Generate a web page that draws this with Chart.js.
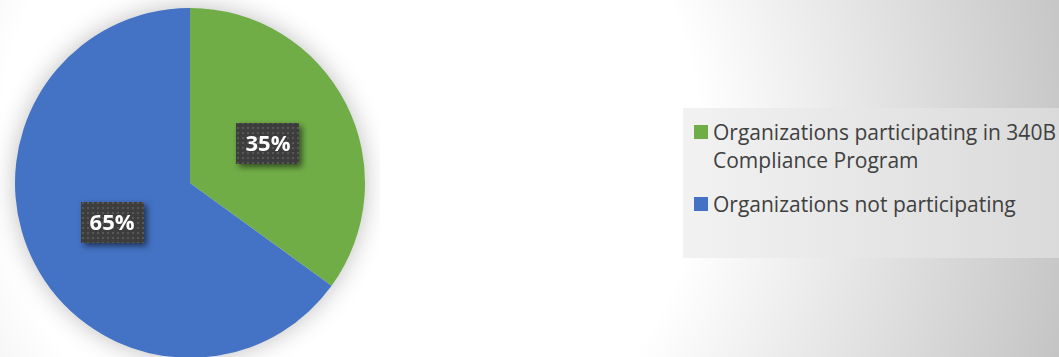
<!DOCTYPE html>
<html>
<head>
<meta charset="utf-8">
<script src="https://cdn.jsdelivr.net/npm/chart.js@4"></script>
<style>
  html, body { margin: 0; padding: 0; width: 1059px; height: 357px; overflow: hidden; }
  body {
    position: relative;
    background: radial-gradient(circle at 350px 150px, #ffffff 350px, #c4c4c4 740px);
    font-family: "Open Sans", sans-serif;
  }
  #wrap { position: absolute; left: 0; top: 0; width: 380px; height: 366px; }
  #legend {
    position: absolute; left: 683px; top: 108px; width: 376px; height: 150px;
    background: linear-gradient(to right, #f2f2f2, #e6e6e6 50%, #dadada);
    box-sizing: border-box; padding: 10px 0 0 11px;
  }
  .item { display: flex; align-items: flex-start; margin-bottom: 16px; }
  .box { width: 14px; height: 14px; margin: 7px 5px 0 0; flex: none; }
  .txt { color: #404040; font-size: 21px; line-height: 28px; width: 346px; }
</style>
</head>
<body>
<div id="wrap"><canvas id="pieChart"></canvas></div>
<div id="legend"></div>
<script>
const labels = ['Organizations participating in 340B Compliance Program', 'Organizations not participating'];
const values = [35, 65];
const colors = ['#70AD47', '#4472C4'];

// legend built from the same arrays
const legend = document.getElementById('legend');
labels.forEach((l, i) => {
  const item = document.createElement('div');
  item.className = 'item';
  item.innerHTML = '<div class="box" style="background:' + colors[i] + '"></div><div class="txt">' + l + '</div>';
  legend.appendChild(item);
});

// dotted dark pattern for the label boxes
const pc = document.createElement('canvas');
pc.width = 5; pc.height = 5;
const pctx = pc.getContext('2d');
pctx.fillStyle = '#3d3d3d';
pctx.fillRect(0, 0, 5, 5);
pctx.fillStyle = '#575757';
pctx.fillRect(2, 2, 2, 2);

const pieShadow = {
  id: 'pieShadow',
  beforeDatasetsDraw(chart) {
    const arc = chart.getDatasetMeta(0).data[0];
    if (!arc) return;
    const ctx = chart.ctx;
    ctx.save();
    ctx.shadowColor = 'rgba(0,0,0,0.28)';
    ctx.shadowBlur = 26;
    ctx.fillStyle = '#ffffff';
    ctx.beginPath();
    ctx.arc(arc.x, arc.y, arc.outerRadius - 1, 0, Math.PI * 2);
    ctx.fill();
    ctx.restore();
  }
};

const boxLabels = {
  id: 'boxLabels',
  afterDatasetsDraw(chart) {
    const ctx = chart.ctx;
    const total = values.reduce((a, b) => a + b, 0);
    chart.getDatasetMeta(0).data.forEach((arc, i) => {
      const p = arc.tooltipPosition();
      const w = 63, h = 41;
      const x = Math.round(p.x - w / 2), y = Math.round(p.y - h / 2);
      ctx.save();
      ctx.shadowColor = 'rgba(0,0,0,0.55)';
      ctx.shadowBlur = 6;
      ctx.shadowOffsetX = 3;
      ctx.shadowOffsetY = 3;
      ctx.fillStyle = ctx.createPattern(pc, 'repeat');
      ctx.fillRect(x, y, w, h);
      ctx.restore();
      ctx.save();
      ctx.fillStyle = '#ffffff';
      ctx.font = 'bold 22px "Open Sans"';
      ctx.textAlign = 'center';
      ctx.textBaseline = 'middle';
      ctx.fillText(Math.round(values[i] / total * 100) + '%', p.x, p.y + 1);
      ctx.restore();
    });
  }
};

new Chart(document.getElementById('pieChart'), {
  type: 'pie',
  data: {
    labels: labels,
    datasets: [{
      data: values,
      backgroundColor: colors,
      borderWidth: 0
    }]
  },
  options: {
    responsive: true,
    maintainAspectRatio: false,
    animation: false,
    layout: { padding: { left: 15, right: 15, top: 8, bottom: 8 } },
    plugins: {
      legend: { display: false },
      tooltip: { enabled: false }
    }
  },
  plugins: [pieShadow, boxLabels]
});
</script>
</body>
</html>
